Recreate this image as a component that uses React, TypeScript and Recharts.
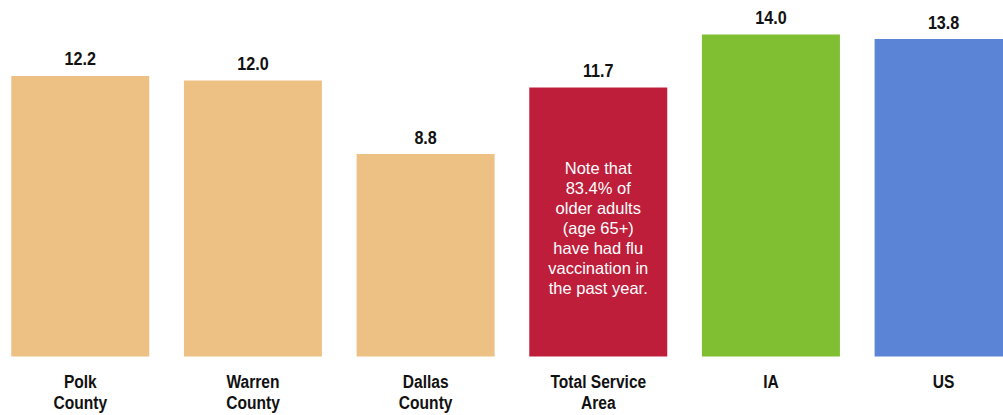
import { BarChart, Bar, XAxis, YAxis, Cell, LabelList } from "recharts";

const categories = ["Polk County", "Warren County", "Dallas County", "Total Service Area", "IA", "US"];
const categoryLines = [
  ["Polk", "County"],
  ["Warren", "County"],
  ["Dallas", "County"],
  ["Total Service", "Area"],
  ["IA"],
  ["US"],
];
const rates = [12.2, 12.0, 8.8, 11.7, 14.0, 13.8];
const barColors = ["#EDC183", "#EDC183", "#EDC183", "#BE1E3A", "#80BE32", "#5B84D6"];
const noteLines = [
  "Note that",
  "83.4% of",
  "older adults",
  "(age 65+)",
  "have had flu",
  "vaccination in",
  "the past year.",
];
const noteIndex = 3;

const data = categories.map((name, i) => ({ name, value: rates[i], lines: categoryLines[i] }));

const FONT = "'Liberation Sans', Arial, sans-serif";

const CategoryTick = (props: any) => {
  const { x, y, index } = props;
  const lines = categoryLines[index] || [];
  return (
    <g>
      {lines.map((line, i) => (
        <text
          key={i}
          transform={`translate(${x},${y + 31.5 + i * 21}) scale(0.82,1)`}
          textAnchor="middle"
          fontFamily={FONT}
          fontWeight="bold"
          fontSize={19}
          fill="#111"
        >
          {line}
        </text>
      ))}
    </g>
  );
};

const ValueLabel = (props: any) => {
  const { x, y, width, value, index } = props;
  const cx = x + width / 2;
  return (
    <g>
      <text
        transform={`translate(${cx},${y - 10.5}) scale(0.85,1)`}
        textAnchor="middle"
        fontFamily={FONT}
        fontWeight="bold"
        fontSize={19}
        fill="#111"
      >
        {Number(value).toFixed(1)}
      </text>
      {index === noteIndex &&
        noteLines.map((line, i) => (
          <text
            key={i}
            x={cx}
            y={y + 87 + i * 20}
            textAnchor="middle"
            fontFamily={FONT}
            fontSize={16.5}
            fill="#ffffff"
          >
            {line}
          </text>
        ))}
    </g>
  );
};

export default function App() {
  return (
    <div
      style={{
        position: "fixed",
        left: 0,
        top: 0,
        width: 1003,
        height: 415,
        overflow: "hidden",
        background: "#fff",
      }}
    >
      <div style={{ position: "absolute", left: -6.3, top: 0 }}>
        <BarChart
          width={1036}
          height={415}
          data={data}
          margin={{ top: 11.5, right: 0, bottom: 0, left: 0 }}
          barCategoryGap="10%"
        >
          <XAxis
            dataKey="name"
            axisLine={false}
            tickLine={false}
            tickSize={0}
            tickMargin={0}
            height={58.5}
            interval={0}
            tick={<CategoryTick />}
          />
          <YAxis hide domain={[0, 15]} />
          <Bar dataKey="value" isAnimationActive={false}>
            {data.map((entry, i) => (
              <Cell key={`cell-${i}`} fill={barColors[i]} />
            ))}
            <LabelList dataKey="value" content={<ValueLabel />} />
          </Bar>
        </BarChart>
      </div>
    </div>
  );
}
